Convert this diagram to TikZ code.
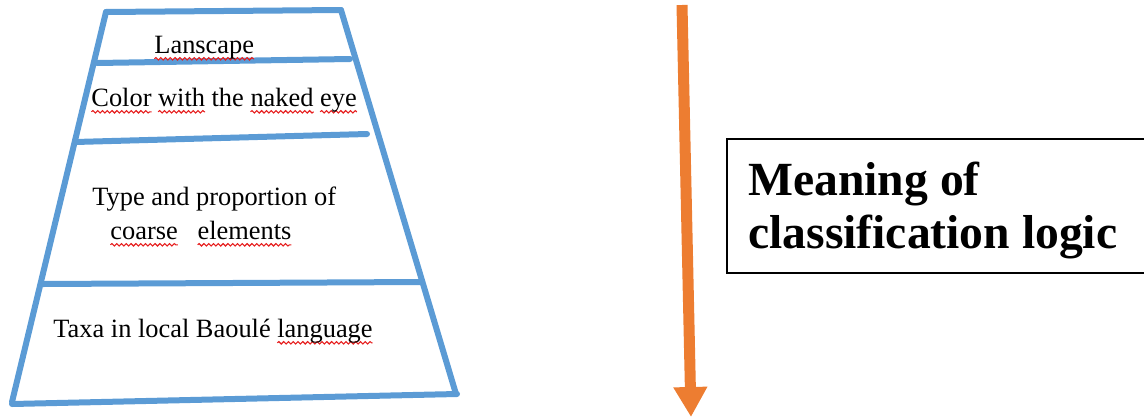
\documentclass[tikz,border=0pt]{standalone}
\usepackage{fontspec}
\setmainfont{Liberation Serif}
\usepackage{tikz}
\usetikzlibrary{arrows.meta, decorations.pathmorphing}
\usepackage{xcolor}
\definecolor{layer}{RGB}{91,155,213}
\definecolor{flow}{RGB}{237,125,49}
\definecolor{spell}{RGB}{230,30,30}

\newlength{\spellwd}
\newcommand{\spellmark}[1]{\settowidth{\spellwd}{#1}%
    \rlap{\tikz[overlay, x = 1pt, y = 1pt] \draw[spell, line width = 0.55pt, decorate,
        decoration = {snake, amplitude = 0.6pt, segment length = 2.4pt}] (0,-2.9) -- (\spellwd,-2.9);}#1}

\tikzset{
    layer line/.style = {draw = layer, line width = 3pt, line cap = round},
    layer text/.style = {font = \fontsize{13.2}{17}\selectfont, inner sep = 0pt, anchor = base west},
    logic text/.style = {align = left, inner sep = 0pt, anchor = base west,
                         font = \fontsize{23.8}{26.5}\selectfont\bfseries}
}

\begin{document}
\begin{tikzpicture}[x = 0.5pt, y = -0.5pt]
            \useasboundingbox (0,0) rectangle (1144,418);
            \clip (0,0) rectangle (1144,418);

            % pyramid outline
            \draw[layer line] (106,12) -- (341,10);
            \draw[layer line] (106,12) -- (12,402);
            \draw[layer line] (341,10) -- (456,394);
            \draw[layer line] (12,404) -- (457,394);
            \draw[layer line] (97,63) -- (350,59);
            \draw[layer line] (75,142) -- (367,134);
            \draw[layer line] (43,284) -- (420,282);

            % layers
            \node[layer text] (landscape) at (154,53) {\spellmark{Lanscape}};
            \node[layer text] (colour) at (91,106)
                {\spellmark{Color} \spellmark{with} the \spellmark{naked} \spellmark{eye}};
            \node[layer text] (coarse) at (92,205) {Type and proportion of};
            \node[layer text] (coarse2) at (110,239) {\spellmark{coarse}\ \ \ \spellmark{elements}};
            \node[layer text] (taxa) at (53,337) {Taxa in local Baoulé \spellmark{language}};

            % direction of reading
            \coordinate (top) at (682,5);
            \coordinate (bottom) at (691,417);
            \draw[flow, line width = 5.5pt, -{Triangle[width = 16pt, length = 15pt]}] (top) -- (bottom);

            % box runs off the right edge of the page
            \coordinate (box ne) at (1200,139);
            \coordinate (box nw) at (727,139);
            \coordinate (box sw) at (727,273);
            \coordinate (box se) at (1200,273);
            \draw[line width = 0.7pt] (box ne) -- (box nw) -- (box sw) -- (box se);
            \node[logic text] (logic) at (748,248) {Meaning of\\classification logic};
        \end{tikzpicture}
\end{document}
